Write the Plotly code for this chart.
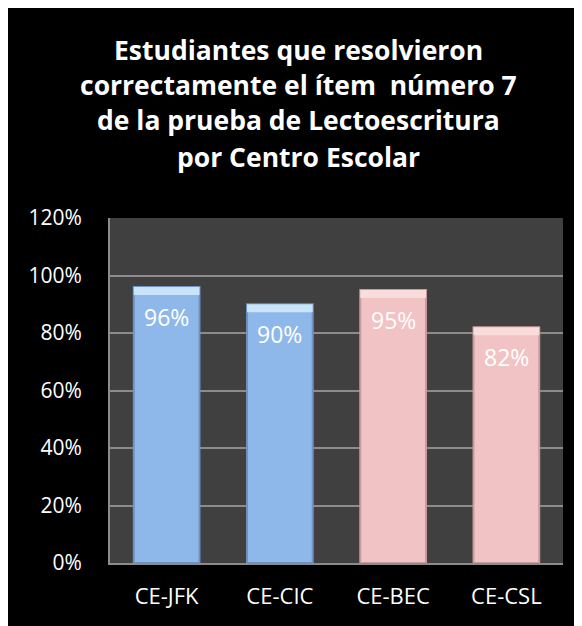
import plotly.graph_objects as go

categories = ["CE-JFK", "CE-CIC", "CE-BEC", "CE-CSL"]
values = [0.96, 0.90, 0.95, 0.82]
bar_colors = ["#8FB8EA", "#8FB8EA", "#F2C3C4", "#F2C3C4"]
bevel_colors = ["#C8E4FA", "#C8E4FA", "#FADCDC", "#FADCDC"]
edge_colors = ["#6E93C2", "#6E93C2", "#C99C9D", "#C99C9D"]
tick_vals = [0, 0.2, 0.4, 0.6, 0.8, 1.0, 1.2]
tick_text = ["0%", "20%", "40%", "60%", "80%", "100%", "120%"]
title_lines = [
    "Estudiantes que resolvieron",
    "correctamente el ítem  número 7",
    "de la prueba de Lectoescritura",
    "por Centro Escolar",
]
title_y = [1.487, 1.386, 1.284, 1.177]

FONT = "Open Sans"
bevel = 0.028

fig = go.Figure()
fig.add_trace(go.Bar(
    x=categories,
    y=values,
    marker=dict(color=bar_colors, line=dict(color=edge_colors, width=2)),
    hoverinfo="skip",
))
fig.add_trace(go.Bar(
    x=categories,
    y=[bevel] * len(values),
    base=[v - bevel for v in values],
    marker=dict(color=bevel_colors, line=dict(width=0)),
    hoverinfo="skip",
))

for c, v in zip(categories, values):
    fig.add_annotation(
        x=c, y=v, xref="x", yref="y",
        text=f"{round(v*100)}%",
        showarrow=False, yanchor="middle", yshift=-30,
        font=dict(family=FONT, size=23, color="white"),
    )

for line, ty in zip(title_lines, title_y):
    fig.add_annotation(
        x=0.417, y=ty, xref="paper", yref="paper",
        text=line, showarrow=False,
        xanchor="center", yanchor="middle",
        font=dict(family=FONT, size=26.5, color="white", weight="bold"),
    )

fig.update_layout(
    width=582,
    height=626,
    barmode="overlay",
    bargap=0.42,
    showlegend=False,
    paper_bgcolor="black",
    plot_bgcolor="#404040",
    margin=dict(l=102, r=27, t=210, b=71),
    xaxis=dict(
        tickfont=dict(family=FONT, size=22, color="white"),
        showline=True, linecolor="#8C8C8C", linewidth=2,
        ticks="", showgrid=False,
        ticklabelstandoff=13,
    ),
    yaxis=dict(
        range=[0, 1.2],
        tickvals=tick_vals,
        ticktext=tick_text,
        tickfont=dict(family=FONT, size=21, color="white"),
        showline=True, linecolor="#8C8C8C", linewidth=2,
        gridcolor="#8C8C8C", gridwidth=2,
        ticks="", ticklen=0,
        zeroline=False,
        ticklabelstandoff=22,
    ),
)

fig.write_html("out.html")
